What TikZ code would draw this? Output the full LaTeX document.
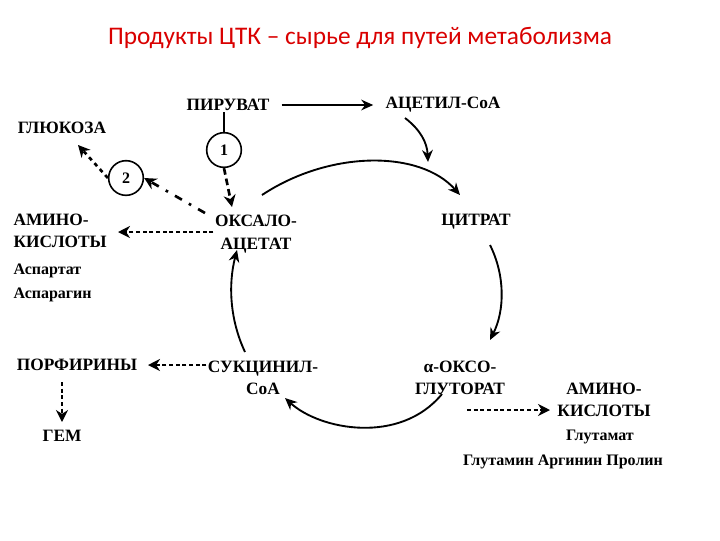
\documentclass[tikz,border=0pt]{standalone}
\usepackage{fontspec}
\setmainfont{Liberation Serif}
\newfontfamily\titlefont{Carlito}
\usetikzlibrary{arrows.meta}
\begin{document}
\begin{tikzpicture}[x=0.75pt,y=-0.75pt,
  lab/.style={font=\bfseries\fontsize{13}{17}\selectfont,inner sep=1pt},
  sub/.style={font=\bfseries\fontsize{12}{15}\selectfont,inner sep=1pt},
  arr/.style={line width=1.4pt,-{Stealth[length=9pt,width=8pt]}},
  dotarr/.style={line width=2pt,dash pattern=on 3pt off 2pt,-{Stealth[length=9pt,width=9pt]}},
  circ/.style={circle,draw,line width=1.2pt,minimum size=26pt,inner sep=0pt,font=\bfseries\fontsize{12}{14}\selectfont}]
\useasboundingbox (0,0) rectangle (720,540);
\node[font=\titlefont\fontsize{19}{22}\selectfont,text=red!85!black] (title) at (360,38) {Продукты ЦТК – сырье для путей метаболизма};
\node[lab] (pyr) at (228,105) {ПИРУВАТ};
\node[lab] (acoa) at (443,105) {АЦЕТИЛ-CoA};
\node[lab] (glc) at (62,128) {ГЛЮКОЗА};
\node[circ] (c1) at (224,150) {1};
\node[circ] (c2) at (126,178) {2};
\node[lab,align=center] (oaa) at (256,234) {ОКСАЛО-\\АЦЕТАТ};
\node[lab,align=left,anchor=north west] (aa1) at (12,212) {АМИНО-\\КИСЛОТЫ};
\node[sub,align=left,anchor=north west] (aa1s) at (12,262) {Аспартат\\[3pt]Аспарагин};
\node[lab] (cit) at (476,222) {ЦИТРАТ};
\node[lab,align=center] (akg) at (460,378) {α-ОКСО-\\ГЛУТОРАТ};
\node[lab,align=center] (aa2) at (604,400) {АМИНО-\\КИСЛОТЫ};
\node[sub] (glu) at (600,437) {Глутамат};
\node[sub] (gln) at (563,462) {Глутамин Аргинин Пролин};
\node[lab,align=center] (suc) at (263,378) {СУКЦИНИЛ-\\CoA};
\node[lab] (por) at (77,365) {ПОРФИРИНЫ};
\node[lab] (gem) at (62,436) {ГЕМ};
\coordinate (akgdot) at (467,410);
\coordinate (aadot) at (550,410);
% arrows
\draw[arr] ([xshift=8]pyr.east) -- ([xshift=-8]acoa.west);
\draw[line width=1.4pt] (pyr.south -| c1) -- (c1.north);
\draw[dotarr,dash pattern=on 5pt off 3pt] (c1.south) -- (232,207);
\draw[dotarr,dash pattern=on 6pt off 6pt on 2pt off 6pt] (205,213) -- (c2.east);
\draw[dotarr,dash pattern=on 3pt off 3pt] (c2.west) -- (78,145);
\draw[dotarr] (oaa.west |- 232,232) -- (118,232);
\draw[arr] (405,118) to[bend left=25] (428,162);
\draw[arr] (262,195) .. controls (330,150) and (420,150) .. (460,195);
\draw[arr] (490,245) .. controls (505,275) and (505,310) .. (490,340);
\draw[arr] (442,394) .. controls (400,445) and (320,430) .. (285,398);
\draw[arr] (245,352) .. controls (230,320) and (228,285) .. (237,250);
\draw[dotarr] (suc.west |- 365,365) -- (148,365);
\draw[dotarr] (62,382) -- (62,422);
\draw[dotarr] (akgdot) -- (aadot);
\end{tikzpicture}
\end{document}
